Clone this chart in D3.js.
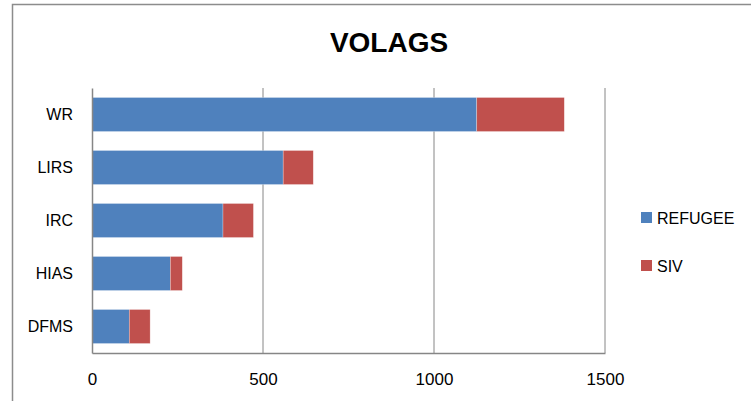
<!DOCTYPE html>
<html>
<head>
<meta charset="utf-8">
<script src="https://cdn.jsdelivr.net/npm/d3@7"></script>
<style>
  html, body { margin: 0; padding: 0; background: #fff; }
  svg { display: block; }
  text { font-family: "Liberation Sans", Arial, sans-serif; fill: #000; }
</style>
</head>
<body>
<svg id="chart" width="751" height="401"></svg>
<script>
// ── DATA ────────────────────────────────────────────
const agencies = ['WR', 'LIRS', 'IRC', 'HIAS', 'DFMS'];
const refugee  = [1125, 559, 383, 229, 109];
const siv      = [256, 88, 89, 35, 61];
const seriesNames = ['REFUGEE', 'SIV'];
const xTicks   = [0, 500, 1000, 1500];

const colors = { REFUGEE: '#4F81BD', SIV: '#C0504D' };

const W = 751, H = 401;
const plot = { left: 92, right: 605, top: 88, bottom: 353 };

const svg = d3.select('#chart');

// outer chart frame (cut off at right/bottom)
svg.append('rect')
  .attr('x', 12.5).attr('y', 4.5)
  .attr('width', W + 20).attr('height', H + 20)
  .attr('fill', '#fff')
  .attr('stroke', '#8c8c8c').attr('stroke-width', 1.5);

// title
svg.append('text')
  .attr('x', 389).attr('y', 52)
  .attr('text-anchor', 'middle')
  .attr('font-size', '28px').attr('font-weight', 'bold')
  .text('VOLAGS');

// scales
const x = d3.scaleLinear().domain([0, 1500]).range([plot.left, plot.right]);
const y = d3.scaleBand().domain(agencies)
  .range([plot.top, plot.bottom])
  .paddingInner(0.358).paddingOuter(0.179);

// gridlines
svg.append('g')
  .selectAll('line')
  .data(xTicks.slice(1))
  .join('line')
  .attr('x1', d => x(d)).attr('x2', d => x(d))
  .attr('y1', plot.top).attr('y2', plot.bottom)
  .attr('stroke', '#868686').attr('stroke-width', 1);

// stacked bars
const rows = agencies.map((a, i) => ({ agency: a, REFUGEE: refugee[i], SIV: siv[i] }));
const stack = d3.stack().keys(seriesNames)(rows);

svg.append('g')
  .selectAll('g')
  .data(stack)
  .join('g')
  .attr('fill', s => colors[s.key])
  .selectAll('rect')
  .data(s => s)
  .join('rect')
  .attr('x', d => x(d[0]))
  .attr('y', d => y(d.data.agency))
  .attr('width', d => x(d[1]) - x(d[0]))
  .attr('height', y.bandwidth())
  .attr('stroke', 'rgba(255,255,255,0.45)')
  .attr('stroke-width', 0.6);

// axes
const xAxis = svg.append('g')
  .attr('transform', `translate(0,${plot.bottom})`)
  .call(d3.axisBottom(x).tickValues(xTicks).tickFormat(d3.format('d')).tickSize(0).tickPadding(20));
xAxis.select('.domain').attr('stroke', '#868686').attr('stroke-width', 1.5);
xAxis.selectAll('text')
  .attr('font-family', '"Liberation Sans", Arial, sans-serif')
  .attr('font-size', '17px').attr('fill', '#000');

const yAxis = svg.append('g')
  .attr('transform', `translate(${plot.left},0)`)
  .call(d3.axisLeft(y).tickSize(0).tickPadding(19));
yAxis.select('.domain').attr('stroke', '#868686').attr('stroke-width', 1.5);
yAxis.selectAll('text')
  .attr('font-family', '"Liberation Sans", Arial, sans-serif')
  .attr('font-size', '16px').attr('fill', '#000');

// legend
const legend = svg.append('g')
  .selectAll('g')
  .data(seriesNames)
  .join('g')
  .attr('transform', (d, i) => `translate(641,${212 + i * 48})`);

legend.append('rect')
  .attr('width', 11).attr('height', 11)
  .attr('fill', d => colors[d]);

legend.append('text')
  .attr('x', 16).attr('y', 11.5)
  .attr('font-size', '16px')
  .text(d => d);
</script>
</body>
</html>
